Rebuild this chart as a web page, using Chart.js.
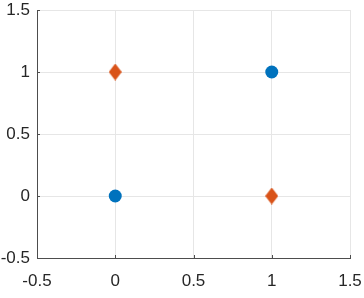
<!DOCTYPE html>
<html>
<head>
<meta charset="utf-8">
<script src="https://cdn.jsdelivr.net/npm/chart.js@4"></script>
<style>
  html, body { margin: 0; padding: 0; background: #fff; }
  #wrap { width: 364px; height: 298px; }
</style>
</head>
<body>
<div id="wrap"><canvas id="c" width="364" height="298"></canvas></div>
<script>
// series data
const circlePts = [{x: 0, y: 0}, {x: 1, y: 1}];
const diamondPts = [{x: 0, y: 1}, {x: 1, y: 0}];
const xTicks = [-0.5, 0, 0.5, 1, 1.5];
const yTicks = [-0.5, 0, 0.5, 1, 1.5];

// tall diamond marker like matlab's 'd'
function diamond(w, h, color) {
  const cv = document.createElement('canvas');
  cv.width = w; cv.height = h;
  const g = cv.getContext('2d');
  g.fillStyle = color;
  g.beginPath();
  g.moveTo(w / 2, 0);
  g.lineTo(w, h / 2);
  g.lineTo(w / 2, h);
  g.lineTo(0, h / 2);
  g.closePath();
  g.fill();
  return cv;
}

// small tick marks pointing into the plot
const innerTicks = {
  id: 'innerTicks',
  afterDraw(chart) {
    const { ctx, chartArea: a, scales: { x, y } } = chart;
    ctx.save();
    ctx.strokeStyle = '#4d4d4d';
    ctx.lineWidth = 1;
    ctx.beginPath();
    xTicks.forEach(v => {
      const px = Math.round(x.getPixelForValue(v)) + 0.5;
      ctx.moveTo(px, a.bottom); ctx.lineTo(px, a.bottom - 3);
    });
    yTicks.forEach(v => {
      const py = Math.round(y.getPixelForValue(v)) + 0.5;
      ctx.moveTo(a.left, py); ctx.lineTo(a.left + 3, py);
    });
    ctx.stroke();
    ctx.restore();
  }
};

const fmt = v => String(v);
const tickFont = { family: 'Liberation Sans, Arial', size: 17 };

new Chart(document.getElementById('c'), {
  type: 'scatter',
  data: {
    datasets: [
      { data: circlePts, pointStyle: 'circle', pointRadius: 6.5, pointHoverRadius: 6.5,
        backgroundColor: '#0072BD', borderColor: '#0072BD', borderWidth: 0 },
      { data: diamondPts, pointStyle: diamond(13, 17, '#D95319'), pointRadius: 8,
        backgroundColor: '#D95319', borderColor: '#D95319' }
    ]
  },
  options: {
    responsive: false,
    animation: false,
    devicePixelRatio: 1,
    layout: { padding: { top: 10, right: 14, left: 0, bottom: 0 } },
    plugins: { legend: { display: false }, tooltip: { enabled: false } },
    scales: {
      x: {
        type: 'linear', min: -0.5, max: 1.5,
        afterBuildTicks: s => { s.ticks = xTicks.map(v => ({ value: v })); },
        afterFit: s => { s.height = 40; s.paddingLeft = 0; s.paddingRight = 0; },
        ticks: { color: '#262626', font: tickFont, padding: 13, maxRotation: 0, callback: fmt },
        grid: { color: '#e6e6e6', drawTicks: false },
        border: { color: '#4d4d4d', width: 1 }
      },
      y: {
        type: 'linear', min: -0.5, max: 1.5,
        afterBuildTicks: s => { s.ticks = yTicks.map(v => ({ value: v })); },
        afterFit: s => { s.width = 37; s.paddingTop = 0; s.paddingBottom = 0; },
        ticks: { color: '#262626', font: tickFont, padding: 7, callback: fmt },
        grid: { color: '#e6e6e6', drawTicks: false },
        border: { color: '#4d4d4d', width: 1 }
      }
    }
  },
  plugins: [innerTicks]
});
</script>
</body>
</html>
